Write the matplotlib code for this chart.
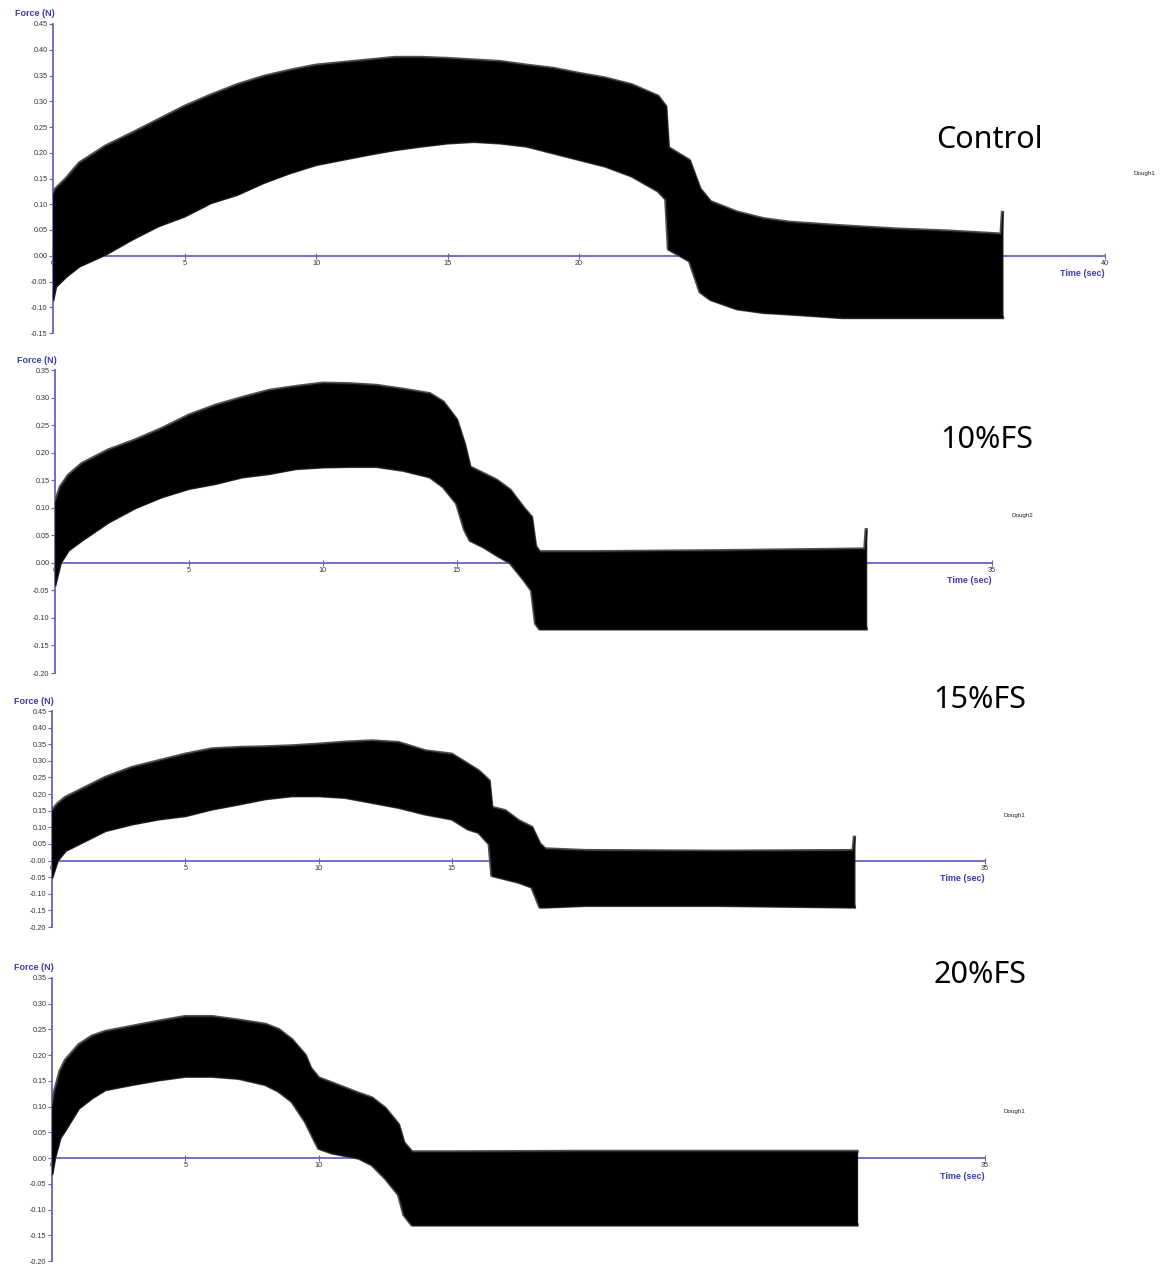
import matplotlib
matplotlib.use("Agg")
import matplotlib.pyplot as plt

# envelope of the oscillating force trace (upper / lower edge)
t_ctrl = [0, 0.1, 0.5, 1, 2, 3, 4, 5, 6, 7, 8, 9, 10, 11, 12, 13, 14, 15, 16, 17, 18, 19, 20,
          21, 22, 23, 23.3, 23.4, 24.2, 24.6, 25, 26, 27, 28, 30, 32, 34, 36.05, 36.1]
up_ctrl = [0.12, 0.13, 0.15, 0.18, 0.213, 0.238, 0.264, 0.29, 0.312, 0.332, 0.348, 0.36, 0.37,
           0.375, 0.38, 0.385, 0.385, 0.383, 0.38, 0.377, 0.37, 0.364, 0.354, 0.345, 0.332, 0.31,
           0.29, 0.21, 0.185, 0.13, 0.105, 0.085, 0.072, 0.065, 0.058, 0.052, 0.048, 0.042, 0.084]
lo_ctrl = [-0.085, -0.06, -0.04, -0.02, 0.003, 0.032, 0.058, 0.077, 0.103, 0.119, 0.142, 0.161,
           0.177, 0.187, 0.197, 0.206, 0.213, 0.219, 0.222, 0.219, 0.213, 0.2, 0.187, 0.174, 0.155,
           0.126, 0.11, 0.013, -0.01, -0.07, -0.085, -0.103, -0.11, -0.113, -0.12, -0.12, -0.12,
           -0.12, -0.12]

t_fs10 = [0, 0.2, 0.5, 1, 2, 3, 4, 5, 6, 7, 8, 9, 10, 11, 12, 13, 14, 14.5, 15, 15.3, 15.5, 16,
          16.5, 17, 17.5, 17.8, 17.95, 18.1, 20, 25, 30.25, 30.3]
up_fs10 = [0.11, 0.138, 0.159, 0.18, 0.205, 0.223, 0.244, 0.268, 0.286, 0.3, 0.313, 0.32, 0.326,
           0.325, 0.322, 0.315, 0.307, 0.292, 0.26, 0.215, 0.174, 0.162, 0.15, 0.132, 0.1, 0.083,
           0.03, 0.02, 0.02, 0.022, 0.025, 0.06]
lo_fs10 = [-0.04, 0.0, 0.023, 0.041, 0.074, 0.1, 0.12, 0.135, 0.144, 0.156, 0.162, 0.171, 0.174,
           0.175, 0.175, 0.168, 0.156, 0.138, 0.108, 0.06, 0.041, 0.029, 0.014, 0.0, -0.03, -0.05,
           -0.11, -0.12, -0.12, -0.12, -0.12, -0.12]

t_fs15 = [0, 0.2, 0.5, 1, 2, 3, 4, 5, 6, 7, 8, 9, 10, 11, 12, 13, 14, 15, 15.6, 16, 16.4, 16.5,
          17, 17.5, 18, 18.3, 18.5, 20, 25, 30.05, 30.1]
up_fs15 = [0.15, 0.17, 0.19, 0.21, 0.25, 0.28, 0.3, 0.32, 0.336, 0.34, 0.342, 0.345, 0.35, 0.356,
           0.36, 0.355, 0.33, 0.32, 0.29, 0.27, 0.24, 0.16, 0.15, 0.12, 0.1, 0.05, 0.035, 0.03,
           0.028, 0.03, 0.07]
lo_fs15 = [-0.05, 0.0, 0.03, 0.05, 0.09, 0.11, 0.125, 0.135, 0.155, 0.17, 0.186, 0.195, 0.195,
           0.19, 0.175, 0.16, 0.14, 0.125, 0.095, 0.085, 0.05, -0.045, -0.055, -0.065, -0.08,
           -0.14, -0.14, -0.135, -0.135, -0.14, -0.14]

t_fs20 = [0, 0.1, 0.3, 0.5, 1, 1.5, 2, 3, 4, 5, 6, 7, 8, 8.5, 9, 9.5, 9.7, 10, 10.5, 11, 11.5,
          12, 12.5, 13, 13.2, 13.5, 15, 20, 25, 30.2]
up_fs20 = [0.1, 0.13, 0.169, 0.19, 0.22, 0.237, 0.246, 0.256, 0.266, 0.275, 0.275, 0.268, 0.26,
           0.25, 0.23, 0.2, 0.175, 0.156, 0.146, 0.136, 0.126, 0.117, 0.097, 0.065, 0.03, 0.012,
           0.012, 0.013, 0.013, 0.013]
lo_fs20 = [-0.03, 0.0, 0.039, 0.055, 0.097, 0.117, 0.133, 0.143, 0.152, 0.159, 0.159, 0.155,
           0.143, 0.13, 0.11, 0.071, 0.05, 0.019, 0.01, 0.005, 0.0, -0.013, -0.039, -0.071, -0.11,
           -0.13, -0.13, -0.13, -0.13, -0.13]

names = ["Control", "10%FS", "15%FS", "20%FS"]
samples = ["Dough1", "Dough2", "Dough1", "Dough1"]
x_max = [40, 35, 35, 35]
y_lims = [(-0.15, 0.45), (-0.20, 0.35), (-0.20, 0.45), (-0.20, 0.35)]
ytick_labels = [
    ["-0.15", "-0.10", "-0.05", "0.00", "0.05", "0.10", "0.15", "0.20", "0.25", "0.30", "0.35",
     "0.40", "0.45"],
    ["-0.20", "-0.15", "-0.10", "-0.05", "0.00", "0.05", "0.10", "0.15", "0.20", "0.25", "0.30",
     "0.35"],
    ["-0.20", "-0.15", "-0.10", "-0.05", "-0.00", "0.05", "0.10", "0.15", "0.20", "0.25", "0.30",
     "0.35", "0.40", "0.45"],
    ["-0.20", "-0.15", "-0.10", "-0.05", "0.00", "0.05", "0.10", "0.15", "0.20", "0.25", "0.30",
     "0.35"],
]
traces = [(t_ctrl, up_ctrl, lo_ctrl), (t_fs10, up_fs10, lo_fs10),
          (t_fs15, up_fs15, lo_fs15), (t_fs20, up_fs20, lo_fs20)]

W, H = 1170, 1265
fig = plt.figure(figsize=(W / 100, H / 100), dpi=100)

# axes boxes in pixels: left, right(x_max), top(y max), bottom(y min)
boxes = [(53, 1105, 24, 333), (55, 992, 370, 673), (52, 985, 711, 927), (52, 985, 978, 1261)]
name_pos = [(989, 140), (987, 440), (980, 700), (980, 975)]
sample_pos = [(1133, 173), (1012, 515), (1003, 815), (1003, 1112)]

axis_col = "#6464c4"
label_col = "#3c3cb0"

for i in range(4):
    l, r, top, bot = boxes[i]
    ax = fig.add_axes([l / W, 1 - bot / H, (r - l) / W, (bot - top) / H])
    t, up, lo = traces[i]
    ax.fill_between(t, lo, up, color="black", lw=0.8, edgecolor="#111111", zorder=3)
    # soft grey rim standing in for the spiky edge of the trace
    ax.plot(t, up, color="#505050", lw=2.4, zorder=2.9)
    ax.plot(t, lo, color="#505050", lw=2.4, zorder=2.9)

    ax.set_xlim(0, x_max[i])
    ax.set_ylim(*y_lims[i])
    ax.set_yticks([float(s) for s in ytick_labels[i]])
    ax.set_yticklabels(ytick_labels[i])
    ax.set_xticks(range(0, x_max[i] + 1, 5))

    for s in ["top", "right"]:
        ax.spines[s].set_visible(False)
    ax.spines["bottom"].set_position(("data", 0))
    ax.spines["left"].set_color(axis_col)
    ax.spines["bottom"].set_color(axis_col)
    ax.spines["left"].set_linewidth(1.3)
    ax.spines["bottom"].set_linewidth(1.3)
    ax.tick_params(axis="y", direction="out", length=3, width=0.8, color=axis_col,
                   labelsize=5.2, labelcolor="#333333", pad=1)
    ax.tick_params(axis="x", direction="inout", length=4, width=0.8, color=axis_col,
                   labelsize=5.2, labelcolor="#333333", pad=1)
    for lab in ax.get_xticklabels() + ax.get_yticklabels():
        lab.set_fontfamily("Liberation Sans")

    ax.annotate("Force (N)", xy=(0, 1), xycoords="axes fraction", xytext=(-18, 10),
                textcoords="offset pixels", ha="center", va="center", fontsize=6.5,
                fontweight="bold", color=label_col, family="Liberation Sans")
    ax.annotate("Time (sec)", xy=(x_max[i], 0), xycoords="data", xytext=(0, -18),
                textcoords="offset pixels", ha="right", va="center", fontsize=6.5,
                fontweight="bold", color=label_col, family="Liberation Sans")

    nx, ny = name_pos[i]
    fig.text(nx / W, 1 - ny / H, names[i], ha="center", va="center", fontsize=22,
             family="Noto Sans", fontweight="light", color="black")
    sx, sy = sample_pos[i]
    fig.text(sx / W, 1 - sy / H, samples[i], ha="left", va="center", fontsize=4.5,
             family="Liberation Sans", color="#222222")

fig.savefig("out.png", dpi=100)
